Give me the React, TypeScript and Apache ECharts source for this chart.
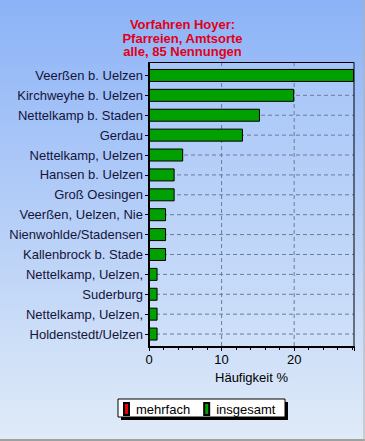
import React, { useEffect, useRef } from "react";
import * as echarts from "echarts";

const titleLines = ["Vorfahren Hoyer:", "Pfarreien, Amtsorte", "alle, 85 Nennungen"];
const categories = [
  "Veerßen b. Uelzen",
  "Kirchweyhe b. Uelzen",
  "Nettelkamp b. Staden",
  "Gerdau",
  "Nettelkamp, Uelzen",
  "Hansen b. Uelzen",
  "Groß Oesingen",
  "Veerßen, Uelzen, Nie",
  "Nienwohlde/Stadensen",
  "Kallenbrock b. Stade",
  "Nettelkamp, Uelzen,",
  "Suderburg",
  "Nettelkamp, Uelzen,",
  "Holdenstedt/Uelzen",
];
const insgesamt = [28.24, 20.0, 15.29, 12.94, 4.71, 3.53, 3.53, 2.35, 2.35, 2.35, 1.18, 1.18, 1.18, 1.18];
const mehrfach: number[] = [];
const xTicks = [0, 10, 20];
const xAxisName = "Häufigkeit %";
const legendNames = ["mehrfach", "insgesamt"];

export default function App() {
  const ref = useRef<HTMLDivElement>(null);
  useEffect(() => {
    if (!ref.current) return;
    const chart = echarts.init(ref.current, undefined, { renderer: "svg" });
    const font = "Liberation Sans, Arial, sans-serif";
    const gridColor = "#6c7b96";
    chart.setOption({
      animation: false,
      backgroundColor: {
        type: "linear", x: 0, y: 0, x2: 0, y2: 1,
        colorStops: [
          { offset: 0, color: "#8cb3f7" },
          { offset: 1, color: "#e0ebf8" },
        ],
      },
      title: {
        text: titleLines.join("\n"),
        left: "center",
        top: 18,
        padding: 0,
        textStyle: { color: "#e0001a", fontSize: 13, fontWeight: "bold", fontFamily: font, lineHeight: 13.5 },
      },
      graphic: [
        {
          type: "rect", z: -10, silent: true,
          shape: { x: 149, y: 62, width: 205, height: 285 },
          style: {
            fill: new echarts.graphic.LinearGradient(0, 0, 0, 1, [
              { offset: 0, color: "#a6c5f8" },
              { offset: 1, color: "#cfe0f9" },
            ]),
          },
        },
        { type: "rect", z: 50, silent: true, shape: { x: 149, y: 62.5, width: 205, height: 285 }, style: { fill: "none", stroke: "#000", lineWidth: 1 } },
        { type: "line", z: 51, silent: true, shape: { x1: 149, y1: 62, x2: 149, y2: 348 }, style: { stroke: "#000", lineWidth: 2 } },
        { type: "rect", z: 0, shape: { x: 121, y: 402, width: 167, height: 18 }, style: { fill: "#000" } },
        { type: "rect", z: 1, shape: { x: 118, y: 399, width: 167, height: 18 }, style: { fill: "#fff", stroke: "#000", lineWidth: 1 } },
        { type: "line", shape: { x1: 0, y1: 440, x2: 365, y2: 440 }, style: { stroke: "#a0a0a0", lineWidth: 2 } },
        { type: "line", shape: { x1: 364, y1: 0, x2: 364, y2: 441 }, style: { stroke: "#b0b0b0", lineWidth: 1 } },
      ],
      legend: {
        data: legendNames,
        left: 123,
        top: 402,
        icon: "rect",
        itemWidth: 5,
        itemHeight: 12,
        itemGap: 13,
        padding: 0,
        z: 10,
        textStyle: { fontSize: 13, color: "#000", fontFamily: font, padding: [0, 0, 0, 2] },
      },
      grid: {
        left: 149, right: 11, top: 65.5, bottom: 97,
        show: false,
      },
      xAxis: {
        type: "value",
        min: 0,
        max: "dataMax",
        interval: 10,
        offset: 3,
        name: xAxisName,
        nameLocation: "middle",
        nameGap: 24,
        nameTextStyle: { fontSize: 13, color: "#000", fontFamily: font },
        axisLine: { show: true, lineStyle: { color: "#000", width: 2 } },
        axisTick: { show: true, length: 4, lineStyle: { color: "#000" } },
        minorTick: { show: true, splitNumber: 5, length: 3, lineStyle: { color: "#000" } },
        axisLabel: {
          fontSize: 13, color: "#000", fontFamily: font, margin: 6,
          formatter: (v: number) => (xTicks.includes(v) ? String(v) : ""),
        },
        splitLine: { show: false },
      },
      yAxis: {
        type: "category",
        data: categories,
        inverse: true,
        axisLine: { show: true, lineStyle: { color: "#000", width: 2 } },
        axisTick: { show: true, length: 4, alignWithLabel: true, lineStyle: { color: "#000" } },
        axisLabel: { fontSize: 13, color: "#14143a", fontFamily: font, margin: 6 },
        splitLine: { show: false },
      },
      series: [
        {
          type: "custom",
          name: "_hgrid",
          z: 1,
          silent: true,
          data: categories.map((c, i) => [0, i]),
          encode: { x: 0, y: 1 },
          renderItem: (params: any, api: any) => {
            const p = api.coord([0, api.value(1)]);
            const cs = params.coordSys;
            return {
              type: "line",
              shape: { x1: cs.x, y1: p[1], x2: cs.x + cs.width, y2: p[1] },
              style: { stroke: gridColor, lineDash: [4, 3], lineWidth: 1 },
            };
          },
        },
        {
          type: "custom",
          name: "_vgrid",
          z: 1,
          silent: true,
          data: xTicks.filter((t) => t > 0).map((t) => [t, 0]),
          encode: { x: 0, y: 1 },
          renderItem: (params: any, api: any) => {
            const p = api.coord([api.value(0), 0]);
            const cs = params.coordSys;
            return {
              type: "line",
              shape: { x1: p[0], y1: cs.y - 3.5, x2: p[0], y2: cs.y + cs.height + 3.5 },
              style: { stroke: gridColor, lineDash: [4, 3], lineWidth: 1 },
            };
          },
        },
        {
          type: "bar",
          name: "mehrfach",
          z: 3,
          data: mehrfach,
          barWidth: 13,
          barGap: "-100%",
          itemStyle: { color: "#f00000", borderColor: "#000", borderWidth: 1 },
        },
        {
          type: "bar",
          name: "insgesamt",
          z: 2,
          data: insgesamt,
          barWidth: 13,
          barGap: "-100%",
          itemStyle: { color: "#00a000", borderColor: "#000", borderWidth: 1 },
        },
      ],
    });
    return () => chart.dispose();
  }, []);
  return <div ref={ref} style={{ position: "absolute", left: 0, top: 0, width: 365, height: 441 }} />;
}
